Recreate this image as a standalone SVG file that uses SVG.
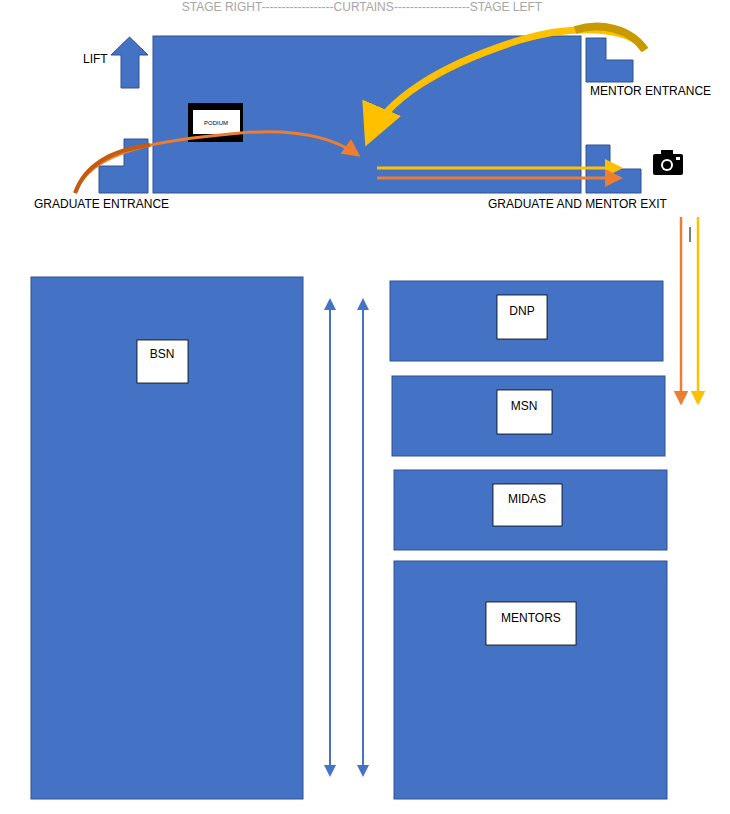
<svg xmlns="http://www.w3.org/2000/svg" width="730" height="814" viewBox="0 0 730 814">
<style>
.b{fill:#4472c4;stroke:#2f528f;stroke-width:1}
.lb{fill:#fff;stroke:#000;stroke-width:0.8}
text{font-family:"Liberation Sans",Arial,sans-serif;font-size:12px;fill:#000}
.c{text-anchor:middle}
</style>
<defs>
<marker id="ao" markerWidth="6" markerHeight="6" refX="5" refY="3" orient="auto"><path d="M0,0L6,3L0,6z" fill="#ed7d31"/></marker>
<marker id="ay" markerWidth="6" markerHeight="6" refX="5" refY="3" orient="auto"><path d="M0,0L6,3L0,6z" fill="#ffc000"/></marker>
<marker id="ab" markerWidth="6" markerHeight="6" refX="5" refY="3" orient="auto-start-reverse"><path d="M0,0L6,3L0,6z" fill="#4472c4"/></marker>
</defs>
<text x="362" y="11" class="c" style="fill:#a6a6a6">STAGE RIGHT------------------CURTAINS-------------------STAGE LEFT</text>
<g id="stage"><rect class="b" x="153" y="36" width="428" height="157"/></g>
<g id="lift"><path class="b" d="M121,88V55H111L129.5,37L148,55H139V88Z"/><text x="83" y="63">LIFT</text></g>
<g id="mentor-entrance"><path class="b" d="M586,38H606V60H633V82H586Z"/><text x="590" y="95">MENTOR ENTRANCE</text></g>
<g id="exit"><path class="b" d="M586,145H610V169H641V193H586Z"/><text x="488" y="208">GRADUATE AND MENTOR EXIT</text></g>
<g id="grad-entrance"><path class="b" d="M124,139H148V193H99V166H124Z"/><text x="34" y="208">GRADUATE ENTRANCE</text></g>
<g id="podium"><rect x="188" y="103" width="55" height="39" fill="#000"/><rect x="193" y="110" width="47" height="24" fill="#fff"/><text x="216" y="125" class="c" style="font-size:6px">PODIUM</text></g>
<g id="camera"><rect x="653" y="154" width="30" height="21" rx="2" fill="#000"/><rect x="661" y="150" width="12" height="6" fill="#000"/><circle cx="667" cy="165" r="6" fill="#fff"/><circle cx="667" cy="165" r="4" fill="#000"/><rect x="676" y="157" width="4" height="3" fill="#fff"/></g>
<g id="BSN"><rect class="b" x="31" y="277" width="272" height="522"/><rect class="lb" x="137" y="340" width="51" height="43"/><text x="162" y="358" class="c">BSN</text></g>
<g id="DNP"><rect class="b" x="390" y="281" width="273" height="80"/><rect class="lb" x="497" y="295" width="50" height="44"/><text x="522" y="315" class="c">DNP</text></g>
<g id="MSN"><rect class="b" x="392" y="376" width="273" height="80"/><rect class="lb" x="497" y="390" width="55" height="44"/><text x="524" y="410" class="c">MSN</text></g>
<g id="MIDAS"><rect class="b" x="394" y="470" width="273" height="80"/><rect class="lb" x="493" y="484" width="69" height="42"/><text x="527" y="503" class="c">MIDAS</text></g>
<g id="MENTORS"><rect class="b" x="394" y="561" width="273" height="238"/><rect class="lb" x="486" y="602" width="90" height="43"/><text x="531" y="622" class="c">MENTORS</text></g>
<g id="connectors">
<path d="M75,193C90,150 160,140 240,133C290,129 330,135 358,155" fill="none" stroke="#ed7d31" stroke-width="3" marker-end="url(#ao)"/>
<path d="M75,193C85,165 110,150 150,145" fill="none" stroke="#c55a11" stroke-width="4"/>
<path d="M645,50C630,25 570,25 520,40C440,65 385,100 368,140" fill="none" stroke="#ffc000" stroke-width="7" marker-end="url(#ay)"/>
<path d="M645,50C630,28 600,22 575,30" fill="none" stroke="#c99a00" stroke-width="8"/>
<line x1="377" y1="168" x2="620" y2="168" stroke="#ffc000" stroke-width="3" marker-end="url(#ay)"/>
<line x1="377" y1="178" x2="620" y2="178" stroke="#ed7d31" stroke-width="3" marker-end="url(#ao)"/>
<line x1="681" y1="217" x2="681" y2="403" stroke="#ed7d31" stroke-width="2.5" marker-end="url(#ao)"/>
<line x1="698" y1="217" x2="698" y2="403" stroke="#ffc000" stroke-width="2.5" marker-end="url(#ay)"/>
<line x1="690" y1="227" x2="690" y2="242" stroke="#000" stroke-width="1"/>
<line x1="330" y1="300" x2="330" y2="775" stroke="#4472c4" stroke-width="2" marker-start="url(#ab)" marker-end="url(#ab)"/>
<line x1="363" y1="300" x2="363" y2="775" stroke="#4472c4" stroke-width="2" marker-start="url(#ab)" marker-end="url(#ab)"/>
</g>
</svg>
